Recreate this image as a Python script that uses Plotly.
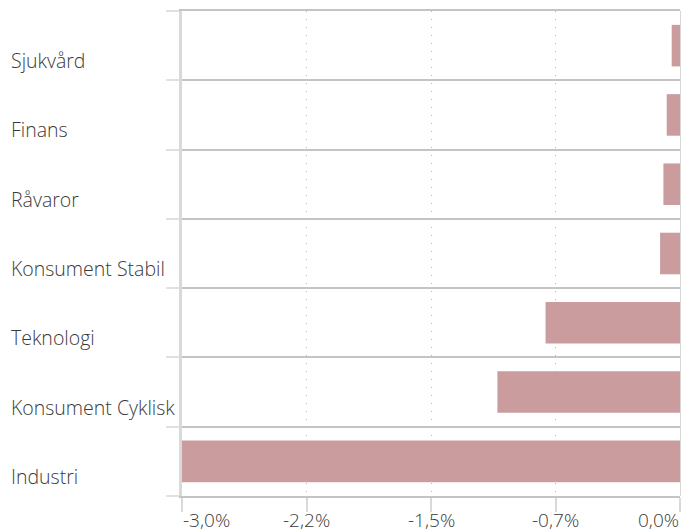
import plotly.graph_objects as go

categories = ["Sjukvård", "Finans", "Råvaror", "Konsument Stabil", "Teknologi", "Konsument Cyklisk", "Industri"]
values = [-0.05, -0.08, -0.10, -0.12, -0.81, -1.10, -3.00]
tick_vals = [-3.0, -2.25, -1.5, -0.75, 0.0]
tick_text = ["-3,0%", "-2,2%", "-1,5%", "-0,7%", "0,0%"]

order = categories[::-1]  # Industri at bottom

font_family = "Open Sans"
txt_font = dict(family=font_family, size=19.5, color="#3a3a3a", weight=300)
tick_font = dict(family=font_family, size=19, color="#3a3a3a", weight=300)

fig = go.Figure()
fig.add_trace(go.Bar(
    y=categories, x=values, orientation="h",
    marker=dict(color="#ca9c9e", line=dict(width=0)),
    width=0.6, hoverinfo="skip",
))

# category labels (left aligned, sitting low in each band)
for c in categories:
    fig.add_annotation(
        x=-0.3454, xref="paper", y=c, yref="y", text=c, showarrow=False,
        xanchor="left", yanchor="middle", yshift=-15, font=txt_font, borderpad=0,
    )

# x tick labels (edge labels kept inside the plot width)
for i, (v, t) in enumerate(zip(tick_vals, tick_text)):
    anchor = "left" if i == 0 else ("right" if i == len(tick_vals) - 1 else "center")
    fig.add_annotation(
        x=v, xref="x", y=0, yref="paper", text=t, showarrow=False,
        xanchor=anchor, yanchor="middle", yshift=-24, font=tick_font, borderpad=0,
    )

fig.update_layout(
    width=681, height=532,
    margin=dict(l=182, r=1, t=11, b=36, autoexpand=False),
    paper_bgcolor="white", plot_bgcolor="white",
    showlegend=False,
    font=txt_font,
    bargap=0.4,
)
fig.update_xaxes(
    range=[-3.0, 0.0], tickvals=tick_vals, showticklabels=False,
    showgrid=True, gridcolor="#b8b8b8", gridwidth=1, griddash="1px,7px",
    ticks="outside", ticklen=14, tickwidth=2, tickcolor="#d9d9d9",
    zeroline=True, zerolinecolor="#d6d6d6", zerolinewidth=1,
    showline=True, mirror=True, linecolor="#c4c4c4", linewidth=2,
    automargin=False,
)
fig.update_yaxes(
    type="category", categoryorder="array", categoryarray=order,
    range=[-0.5, 6.5], tickson="boundaries",
    showgrid=True, gridcolor="#c4c4c4", gridwidth=2,
    ticks="outside", ticklen=13, tickwidth=2, tickcolor="#e0e0e0",
    showticklabels=False, zeroline=False,
    showline=True, linecolor="#d9d9d9", linewidth=3,
    automargin=False,
)

fig.write_html("out.html", config={"displayModeBar": False},
               post_script="document.body.style.margin='0';")
